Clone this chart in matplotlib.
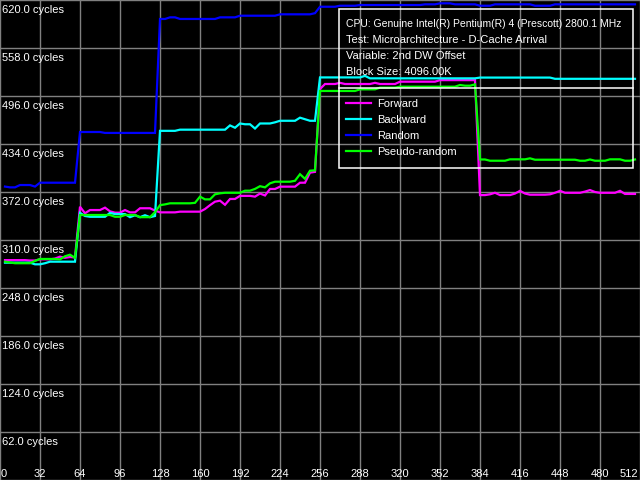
import matplotlib
matplotlib.use("Agg")
import numpy as np
import matplotlib.pyplot as plt
import matplotlib.transforms as mtransforms
from matplotlib.lines import Line2D
from matplotlib.patches import Rectangle

# ---------------- data ----------------
x_ticks = [0, 32, 64, 96, 128, 160, 192, 224, 256, 288, 320, 352, 384, 416, 448, 480, 512]
y_ticks = [0, 62, 124, 186, 248, 310, 372, 434, 496, 558, 620]
y_tick_labels = ["62.0 cycles", "124.0 cycles", "186.0 cycles", "248.0 cycles", "310.0 cycles",
                 "372.0 cycles", "434.0 cycles", "496.0 cycles", "558.0 cycles", "620.0 cycles"]

offsets = np.arange(4, 509, 4)  # sample positions (block offset)

forward = [
    284, 284, 284, 284, 284, 283.5, 283.5, 285, 285, 285,
    286, 288.5, 287, 288, 287.5, 353, 344.5, 348.7, 348.7, 348.7,
    351.8, 347, 345.3, 345.3, 348.7, 345.7, 345.7, 351, 351, 351,
    348, 345.7, 345.7, 345.7, 345.7, 346.6, 346.6, 346.6, 346.6, 346.6,
    350, 355, 359.5, 360.8, 355.5, 363, 363, 367, 367, 367,
    366, 370, 367.5, 375.9, 375.9, 378.9, 378.9, 378.9, 378.9, 384,
    384, 397, 398, 505, 511.5, 511.5, 511.5, 513, 511.5, 511.5,
    511.5, 511.5, 511.5, 511.5, 513, 511.5, 511.5, 511.5, 511.5, 514.5,
    514.5, 514.5, 514.5, 514.5, 514.5, 514.5, 514.5, 516.5, 516.5, 516.5,
    516.5, 516.5, 516.5, 516.5, 516.5, 368, 368, 369, 371, 368,
    368, 368, 370, 373.5, 370, 368.5, 368.5, 368.5, 368.5, 369,
    371, 373.5, 371, 371, 371, 371, 372.5, 374.5, 372, 371,
    371, 371, 371, 373.5, 369.5, 369.5, 369.5,
]

backward = [
    280.7, 280.7, 280.7, 280.7, 280.7, 280.7, 278.6, 278.6, 280, 282,
    282, 282, 282, 282, 282, 345, 341, 340, 340, 340,
    340, 345, 343.5, 343.5, 343.5, 339.5, 342, 339.5, 342, 339.5,
    341, 451, 451, 451, 451, 452.5, 452.5, 452.5, 452.5, 452.5,
    452.5, 452.5, 452.5, 452.5, 452.5, 458, 455, 460.5, 459.5, 459.5,
    454, 460.5, 460.5, 460.5, 462, 464, 464, 464, 464, 468,
    466, 464, 464, 520, 520, 520, 520, 520, 520, 520,
    520, 520, 522, 518.8, 518.8, 518.8, 518.8, 518.8, 518.8, 518.8,
    518.8, 518.8, 518.8, 518.8, 518.8, 518.8, 518.8, 518.8, 518.8, 518.8,
    518.8, 518.8, 518.8, 518.8, 518.8, 519.8, 519.8, 519.8, 519.8, 519.8,
    519.8, 519.8, 519.8, 519.8, 519.8, 519.8, 519.8, 519.8, 519.8, 519.8,
    518.2, 518.2, 518.2, 518.2, 518.2, 518.2, 518.2, 518.2, 518.2, 518.2,
    518.2, 518.2, 518.2, 518.2, 518.2, 518.2, 518.2,
]

random_access = [
    379, 378, 378, 381, 381, 381, 379, 384, 384, 384,
    384, 384, 384, 384, 384, 449.5, 449.5, 449.5, 449.5, 449.5,
    448.3, 448.3, 448.3, 448.3, 448.3, 448.3, 448.3, 448.3, 448.3, 448.3,
    448.3, 595.5, 595.5, 597.6, 597.6, 595.5, 595.5, 595.5, 595.5, 595.5,
    595.5, 595.5, 595.5, 597.6, 597.6, 597.6, 597.6, 599.7, 599.7, 599.7,
    599.7, 599.7, 599.7, 599.7, 599.7, 601.5, 601.5, 601.5, 601.5, 601.5,
    601.5, 601.5, 603, 611.3, 611.3, 611.3, 611.3, 612.6, 612.6, 612.6,
    612.6, 613.5, 613.5, 613.5, 613.5, 613.5, 613.5, 613.5, 613.5, 613.5,
    613.5, 613.5, 613.5, 613.5, 614.4, 614.4, 614.4, 615.7, 615.7, 615.7,
    614.4, 614.4, 614.4, 614.4, 614.4, 612.6, 612.6, 612.6, 614.4, 614.4,
    614.4, 614.4, 614.4, 614.4, 614.4, 614.4, 612.6, 612.6, 612.6, 612.6,
    614.4, 614.4, 614.4, 614.4, 614.4, 614.4, 614.4, 614.4, 614.4, 614.4,
    614.4, 614.4, 614.4, 614.4, 614.4, 614.4, 614.4,
]

pseudo_random = [
    282, 281, 280, 280, 280, 280, 283, 285.5, 285.5, 285.5,
    285.5, 285, 289, 291, 287, 342.3, 342.3, 342.3, 342.3, 342.3,
    342.3, 342.3, 340, 340, 342.3, 342.3, 342.3, 339.5, 339.5, 339.5,
    346, 355, 356, 357.4, 357.4, 357.4, 357.4, 357.4, 358, 366,
    362.5, 362.5, 369, 370.3, 371, 371, 371, 371, 373.7, 373.7,
    376, 379.5, 378, 383.2, 385.3, 385.3, 385.3, 385.3, 386.5, 395,
    389, 399.5, 400, 502.5, 502.5, 502.5, 502.5, 502.5, 502.5, 502.5,
    502.5, 504.6, 504.6, 504.6, 504.6, 506.8, 506.8, 506.8, 506.8, 508,
    508, 508, 508, 508, 508, 508, 508, 508, 508, 508,
    508, 510.2, 509.3, 509.3, 511, 414, 414, 412.4, 412.4, 412.4,
    412.4, 414.2, 414.2, 414.2, 414.2, 415.5, 413.7, 413.7, 413.7, 413.7,
    413.7, 413.7, 413.7, 413.7, 413.7, 412.4, 412.4, 414, 412.4, 412.4,
    412.4, 414.2, 414.2, 414.2, 412.4, 412.4, 414,
]

series_names = ["Forward", "Backward", "Random", "Pseudo-random"]
series_colors = ["#FF00FF", "#00FFFF", "#0000FF", "#00FF00"]
info_lines = [
    "CPU: Genuine Intel(R) Pentium(R) 4 (Prescott) 2800.1 MHz",
    "Test: Microarchitecture - D-Cache Arrival",
    "Variable: 2nd DW Offset",
    "Block Size: 4096.00K",
]

# ---------------- figure ----------------
FONT = "Liberation Sans"
FS = 8
W, H = 640, 480

fig = plt.figure(figsize=(6.4, 4.8), dpi=100, facecolor="black")
ax = fig.add_axes([0, 0, 1, 1])
ax.set_facecolor("black")
ax.set_xlim(0, 512)
ax.set_ylim(0, 620)
ax.set_xticks(x_ticks)
ax.set_yticks(y_ticks)
ax.tick_params(length=0, labelbottom=False, labelleft=False)
ax.grid(True, color="#808080", linewidth=1.0, zorder=0)
ax.set_axisbelow(True)
for s in ax.spines.values():
    s.set_visible(False)

all_series = [forward, backward, random_access, pseudo_random]
for vals, name, col in zip(all_series, series_names, series_colors):
    ax.plot(offsets, vals, color=col, linewidth=1.6, label=name, zorder=3,
            solid_joinstyle="miter")

# y tick labels inside the plot, just below each gridline
ytrans = mtransforms.blended_transform_factory(ax.transAxes, ax.transData)
for v, lab in zip(y_ticks[1:], y_tick_labels):
    t = mtransforms.offset_copy(ytrans, fig=fig, x=2, y=-12.7, units="dots")
    ax.text(0, v, lab, transform=t, ha="left", va="baseline", color="white",
            fontsize=FS, family=FONT, zorder=5)

# x tick labels along the bottom
for i, v in enumerate(x_ticks):
    if i == 0:
        ha, dx = "left", 1
    elif i == len(x_ticks) - 1:
        ha, dx = "right", -2
    else:
        ha, dx = "center", 0
    t = mtransforms.offset_copy(ax.transData, fig=fig, x=dx, y=3.3, units="dots")
    ax.text(v, 0, str(v), transform=t, ha=ha, va="baseline", color="white",
            fontsize=FS, family=FONT, zorder=5)

# info / legend box in pixel coordinates (from top-left)
pix = mtransforms.Affine2D().scale(1.0 / W, -1.0 / H).translate(0, 1) + fig.transFigure
box_l, box_t, box_r, box_b, sep_y = 338.5, 9, 632.5, 168, 88.3
ax.add_patch(Rectangle((box_l, box_t), box_r - box_l, box_b - box_t, transform=pix,
                       fill=False, edgecolor="white", linewidth=1.1, zorder=6,
                       clip_on=False))
ax.add_line(Line2D([box_l, box_r], [sep_y, sep_y], transform=pix, color="white",
                   linewidth=1.1, zorder=6, clip_on=False))
info_sizes = [7.5, FS, FS, FS]
for i, (line, fs) in enumerate(zip(info_lines, info_sizes)):
    ax.text(346, 26.7 + 16 * i, line, transform=pix, ha="left", va="baseline",
            color="white", fontsize=fs, family=FONT, zorder=6, clip_on=False)
for i, (name, col) in enumerate(zip(series_names, series_colors)):
    yl = 102.7 + 16 * i
    ax.add_line(Line2D([346, 371], [yl, yl], transform=pix, color=col,
                       linewidth=1.6, zorder=6, clip_on=False))
    ax.text(377.5, yl + 4, name, transform=pix, ha="left", va="baseline",
            color="white", fontsize=FS, family=FONT, zorder=6, clip_on=False)

fig.savefig("out.png", dpi=100, facecolor="black")
